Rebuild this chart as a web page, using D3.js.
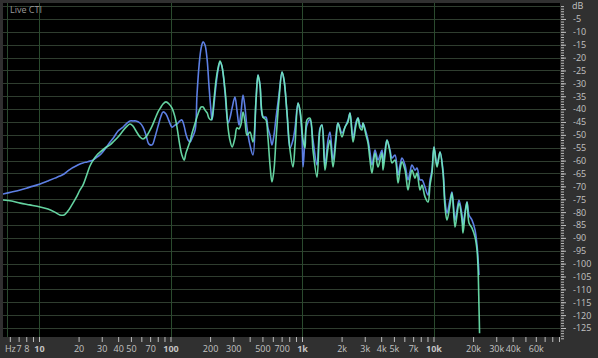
<!DOCTYPE html>
<html>
<head>
<meta charset="utf-8">
<script src="https://cdn.jsdelivr.net/npm/d3@7"></script>
<style>
body { margin: 0; background: #303030; }
svg { display: block; }
text { font-family: "Open Sans", "DejaVu Sans", sans-serif; font-size: 9px; fill: #c2c2c2; }
</style>
</head>
<body>
<svg id="chart" width="598" height="358"></svg>
<script>
// frequencies (Hz) of the sampled points, shared by both channels
const freqHz = [5.3, 6.2, 7.2, 8.5, 10.2, 11.7, 13.2, 14.4, 15.5, 16.6, 17.8, 19.1, 20.5, 21.6, 23.2, 24.4, 25.8, 27.6, 29.1, 31.8,
  34.7, 37.2, 39.9, 42.8, 45.9, 49.2, 51.9, 54.7, 58.6, 61.8, 65.1, 68.6, 72.4, 76.3, 80.4, 84.7, 87.7, 92.4, 97.4, 102.7,
  108.2, 112, 118, 122, 127, 131, 136, 141, 146, 154, 159, 165, 171, 177, 183, 190, 196, 203, 207, 214,
  222, 230, 238, 246, 260, 274, 283, 294, 309, 320, 332, 344, 356, 369, 382, 402, 424, 447, 463, 479,
  505, 532, 551, 571, 591, 612, 634, 668, 705, 730, 769, 811, 854, 885, 933, 966, 1000, 1018, 1054, 1091,
  1150, 1212, 1300, 1371, 1419, 1496, 1577, 1633, 1721, 1814, 1878, 2015, 2123, 2238, 2318, 2443, 2575, 2667, 2761, 2859,
  2910, 3067, 3176, 3289, 3406, 3591, 3785, 3920, 4059, 4131, 4278, 4430, 4669, 4836, 5096, 5372, 5563, 5761, 6072, 6400,
  6628, 6864, 7235, 7492, 7897, 8178, 8620, 9086, 9409, 9741, 10088, 10632, 11205, 11810, 12231, 12666, 13351, 13826, 14573, 15091,
  15629, 16472, 16763, 17360, 17978, 18618, 19627, 20686, 21420, 21800, 22185, 22400];

// level of the blue channel (dB)
const blueDb = [-73.0, -72.2, -71.4, -70.3, -69.1, -67.9, -66.8, -66.0, -65.2, -64.0, -62.9, -62.1, -61.3, -60.9, -60.5, -60.2, -59.8, -58.6, -57.8, -55.5,
  -52.8, -50.8, -48.5, -47.3, -45.8, -44.6, -44.6, -44.6, -45.4, -47.0, -50.1, -53.6, -53.9, -50.8, -46.6, -42.7, -41.1, -41.9, -44.6, -47.0,
  -46.2, -45.8, -44.6, -44.2, -46.6, -49.7, -52.0, -52.8, -51.2, -48.1, -34.5, -22.9, -16.3, -13.9, -15.1, -20.9, -30.6, -40.4, -44.2, -38.4,
  -30.6, -24.8, -21.7, -23.3, -33.8, -45.4, -43.5, -39.6, -35.3, -40.4, -46.2, -41.1, -34.5, -39.6, -47.3, -53.9, -57.8, -36.5, -26.8, -30.6,
  -43.1, -43.1, -47.3, -50.1, -53.9, -50.1, -43.5, -34.5, -25.6, -28.7, -41.5, -55.1, -52.0, -47.3, -37.6, -41.1, -50.1, -62.5, -52.0, -46.2,
  -44.2, -52.0, -61.7, -47.3, -46.2, -61.7, -52.0, -48.9, -59.8, -50.1, -45.4, -49.3, -47.0, -44.2, -41.5, -51.2, -45.0, -43.5, -46.2, -47.0,
  -45.4, -48.9, -52.0, -56.7, -61.7, -55.9, -59.8, -57.8, -55.9, -60.9, -55.9, -52.0, -55.9, -59.0, -57.8, -65.6, -61.7, -59.0, -61.7, -67.5,
  -64.4, -61.7, -63.7, -62.9, -67.5, -67.5, -70.3, -73.4, -67.5, -63.7, -54.7, -61.7, -56.7, -63.7, -75.3, -80.4, -75.3, -72.2, -83.1, -79.2,
  -75.3, -81.1, -85.0, -80.0, -76.1, -81.1, -83.1, -86.9, -92.8, -97.8, -104.4, null];

// level of the green channel (dB)
const greenDb = [-75.3, -75.7, -76.5, -77.2, -78.0, -78.8, -80.0, -81.1, -81.1, -79.6, -77.2, -74.5, -71.4, -69.5, -65.2, -62.1, -59.8, -57.8, -56.7, -55.1,
  -53.9, -52.4, -50.8, -48.9, -47.0, -45.8, -46.6, -48.5, -50.8, -51.6, -50.8, -48.9, -46.6, -43.8, -41.1, -39.2, -38.0, -37.2, -38.0, -39.6,
  -43.1, -47.0, -54.3, -57.8, -59.8, -57.1, -54.7, -52.4, -49.3, -45.4, -43.1, -40.7, -39.2, -39.2, -40.4, -41.5, -43.5, -44.2, -43.5, -36.5,
  -28.7, -24.0, -21.3, -23.3, -32.6, -47.3, -52.0, -54.7, -51.2, -47.3, -47.7, -45.8, -41.1, -45.0, -50.1, -48.9, -52.8, -36.5, -26.8, -30.6,
  -43.1, -44.2, -51.2, -61.7, -68.3, -63.7, -52.0, -36.5, -25.6, -28.7, -41.5, -55.9, -62.5, -53.9, -37.6, -40.4, -48.1, -52.0, -55.1, -44.2,
  -43.5, -55.9, -66.4, -48.1, -46.2, -63.7, -55.1, -52.0, -62.5, -52.0, -45.4, -50.8, -47.0, -45.0, -41.5, -52.8, -46.2, -43.5, -47.3, -48.1,
  -45.4, -50.1, -53.2, -59.8, -64.8, -57.1, -62.5, -59.8, -57.1, -63.7, -57.8, -52.0, -56.7, -60.9, -59.8, -68.7, -63.7, -60.5, -63.7, -71.4,
  -66.8, -63.7, -66.8, -64.8, -71.4, -69.5, -74.1, -76.1, -69.5, -64.8, -54.7, -62.5, -56.7, -64.8, -78.0, -83.1, -77.2, -72.6, -85.8, -81.1,
  -76.5, -83.1, -88.1, -81.1, -76.1, -84.2, -86.2, -89.7, -94.7, -101.3, -116.9, -127.0];

// axis ticks
const xTickHz = [6, 7, 8, 9, 10, 20, 30, 40, 50, 60, 70, 80, 90, 100, 200, 300, 400, 500, 600, 700, 800, 900,
  1000, 2000, 3000, 4000, 5000, 6000, 7000, 8000, 9000, 10000, 20000, 30000, 40000, 50000, 60000, 70000, 80000, 90000];
const xLabelHz = [6, 7, 8, 10, 20, 30, 40, 50, 70, 100, 200, 300, 500, 700, 1000, 2000, 3000, 4000, 5000, 7000, 10000, 20000, 30000, 40000, 60000];
const xLabelText = ["Hz", "7", "8", "10", "20", "30", "40", "50", "70", "100", "200", "300", "500", "700",
  "1k", "2k", "3k", "4k", "5k", "7k", "10k", "20k", "30k", "40k", "60k"];
const gridHz = [10, 100, 1000, 10000];
const dbLabels = [-5, -10, -15, -20, -25, -30, -35, -40, -45, -50, -55, -60, -65, -70, -75, -80, -85, -90, -95, -100, -105, -110, -115, -120, -125];

const svg = d3.select("#chart");
const plot = { left: 3, right: 560, top: 3, bottom: 337 };

const x = d3.scaleLog().domain([10, 10000]).range([39, 433.5]);
const y = d3.scaleLinear().domain([0, -125]).range([6.1, 328]);

// background of the plotting area
svg.append("rect")
  .attr("x", plot.left).attr("y", plot.top)
  .attr("width", plot.right - plot.left).attr("height", plot.bottom - plot.top)
  .attr("fill", "#000");

svg.append("clipPath").attr("id", "plotClip")
  .append("rect")
  .attr("x", plot.left).attr("y", plot.top)
  .attr("width", plot.right - plot.left).attr("height", plot.bottom - plot.top);

// horizontal grid every 5 dB
svg.append("g")
  .selectAll("line")
  .data([0].concat(dbLabels))
  .join("line")
  .attr("x1", plot.left).attr("x2", plot.right)
  .attr("y1", d => Math.round(y(d)) + 0.5).attr("y2", d => Math.round(y(d)) + 0.5)
  .attr("stroke", "#2f3d2f");

// vertical grid at each decade, plus the left frame line
svg.append("g")
  .selectAll("line")
  .data(gridHz)
  .join("line")
  .attr("x1", d => Math.round(x(d)) + 0.5).attr("x2", d => Math.round(x(d)) + 0.5)
  .attr("y1", plot.top).attr("y2", plot.bottom)
  .attr("stroke", "#2a4a2e");
svg.append("line")
  .attr("x1", 7.5).attr("x2", 7.5).attr("y1", plot.top).attr("y2", plot.bottom)
  .attr("stroke", "#2a4a2e");

// the two spectra
const pts = d => freqHz.map((f, i) => ({ f: f, v: d[i] }));
const line = d3.line()
  .defined(d => d.v !== null)
  .x(d => x(d.f))
  .y(d => y(d.v))
  .curve(d3.curveCatmullRom.alpha(0.5));

const curves = svg.append("g").attr("clip-path", "url(#plotClip)");
curves.append("path")
  .datum(pts(blueDb))
  .attr("d", line)
  .attr("fill", "none")
  .attr("stroke", "#5d7fe4")
  .attr("stroke-width", 1.6);
curves.append("path")
  .datum(pts(greenDb))
  .attr("d", line)
  .attr("fill", "none")
  .attr("stroke", "#72efb6")
  .attr("stroke-opacity", 0.88)
  .attr("stroke-width", 1.6);

// bottom frequency axis
const xAxis = svg.append("g")
  .attr("transform", `translate(0,${plot.bottom})`)
  .call(d3.axisBottom(x).tickValues(xTickHz).tickSize(5).tickFormat(""));
xAxis.select(".domain").remove();
xAxis.selectAll("line").attr("stroke", "#bdbdbd");

const xLab = svg.append("g")
  .attr("transform", `translate(0,${plot.bottom})`)
  .call(d3.axisBottom(x).tickValues(xLabelHz).tickSize(0).tickPadding(9)
    .tickFormat((d, i) => xLabelText[i]));
xLab.select(".domain").remove();
xLab.selectAll("text")
  .attr("fill", d => gridHz.includes(d) ? "#e6e6e6" : "#c2c2c2")
  .style("font-weight", d => gridHz.includes(d) ? "bold" : "normal")
  .style("font-size", "9px")
  .style("font-family", "\"Open Sans\", \"DejaVu Sans\", sans-serif");

// right dB axis: 1 dB minor ticks and labelled 5 dB ticks
const yMinor = svg.append("g")
  .attr("transform", `translate(${plot.right + 1},0)`)
  .call(d3.axisRight(y).tickValues(d3.range(0, -130, -1)).tickSize(3).tickFormat(""));
yMinor.select(".domain").remove();
yMinor.selectAll("line").attr("stroke", "#bdbdbd");

const yMajor = svg.append("g")
  .attr("transform", `translate(${plot.right + 1},0)`)
  .call(d3.axisRight(y).tickValues(dbLabels).tickSize(5).tickPadding(7).tickFormat(d => d));
yMajor.select(".domain").remove();
yMajor.selectAll("line").attr("stroke", "#bdbdbd");
yMajor.selectAll("text").attr("fill", "#c2c2c2").style("font-size", "9px")
  .style("font-family", "\"Open Sans\", \"DejaVu Sans\", sans-serif");

svg.append("text")
  .attr("x", 572).attr("y", 9)
  .text("dB");

svg.append("text")
  .attr("x", 10).attr("y", 13)
  .style("fill", "#9a9a9a")
  .text("Live CTI");
</script>
</body>
</html>
